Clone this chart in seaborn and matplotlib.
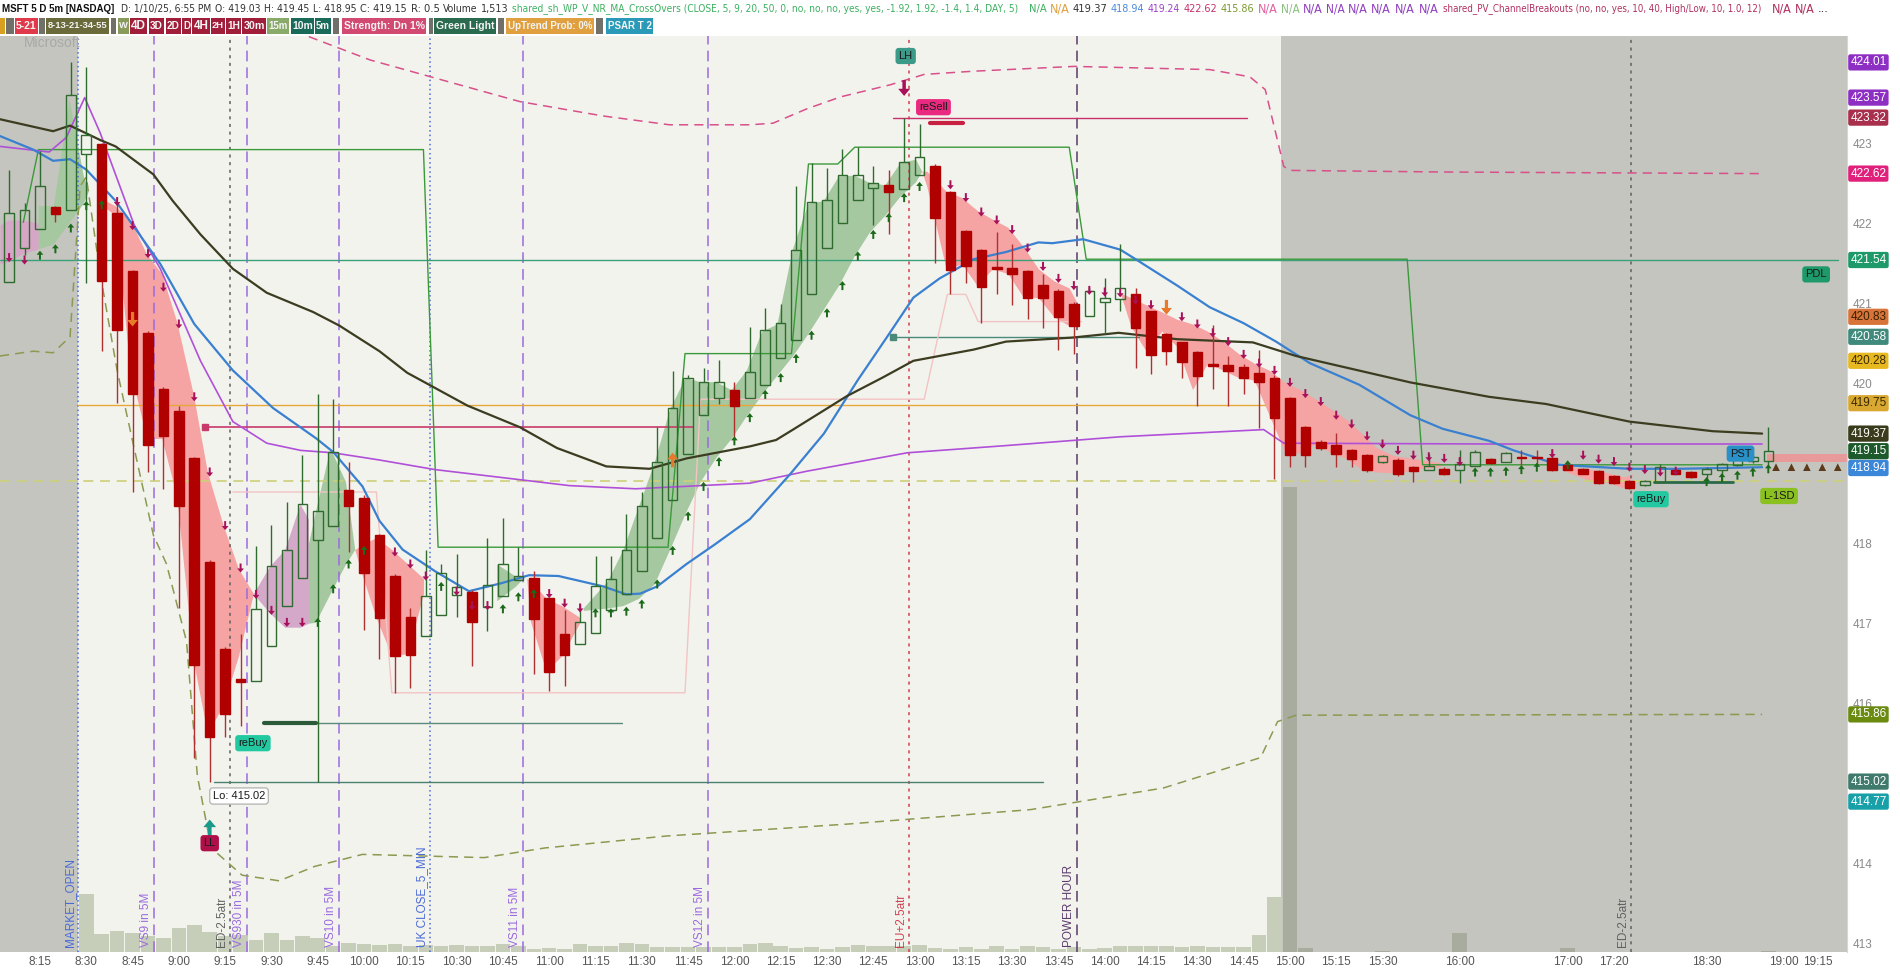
import matplotlib
matplotlib.use('Agg')
import numpy as np
import matplotlib.pyplot as plt
import matplotlib.transforms as mtransforms
from matplotlib import font_manager
from matplotlib.font_manager import FontProperties
from matplotlib.patches import Rectangle
import seaborn as sns

sns.set_style('white')
REGULAR = ['Liberation Sans', 'DejaVu Sans']
plt.rcParams['font.family'] = REGULAR

# pick a condensed sans face if the box has one, the header text is very tight
narrow_file = None
for f in font_manager.fontManager.ttflist:
    nm = f.name.lower()
    if 'mono' in nm or 'serif' in nm or 'cjk' in nm:
        continue
    if ('narrow' in nm or 'condensed' in nm or f.stretch in ('condensed', 'semi-condensed')) \
            and f.style == 'normal' and f.weight in (400, 'normal', 'regular', 'book'):
        narrow_file = f.fname
        break


def hfont(size, bold=False):
    if narrow_file and not bold:
        return FontProperties(fname=narrow_file, size=size)
    return FontProperties(family=REGULAR, size=size, weight='bold' if bold else 'normal')


W, H = 1900, 972

# ---- candles: bar index (8:15 = 0), 5 minute bars, MSFT 1/10/25 ----
bar_idx = list(range(-2, 113))
opens = [421.26, 421.69, 421.93, 422.20, 422.16,
         422.87, 422.99, 422.13, 421.40, 420.63, 419.93, 419.65, 419.06, 417.77, 416.68,
         416.30, 416.28, 416.72, 417.22, 417.57, 418.04, 418.22, 418.67, 418.57, 418.10,
         417.59, 417.08, 416.84, 417.10, 417.35, 417.39, 417.20, 417.34, 417.54, 417.57,
         417.31, 416.86, 416.74, 416.88, 417.16, 417.36, 417.65, 418.07, 418.54, 419.12,
         419.60, 419.81, 419.91, 419.81, 419.98, 420.32, 420.54, 421.11, 421.69, 422.00,
         422.29, 422.44, 422.48, 422.43, 422.60, 422.72, 422.39, 421.90, 421.67, 421.45,
         421.44, 421.40, 421.23, 421.15, 420.99, 420.84, 421.01, 421.05, 421.11, 420.90,
         420.61, 420.51, 420.39, 420.24, 420.23, 420.20, 420.13, 420.07, 419.81, 419.45,
         419.27, 419.23, 419.16, 419.10, 419.01, 419.04, 418.95, 418.92, 418.93, 418.91,
         418.96, 419.05, 419.02, 419.08, 419.08, 419.07, 418.98, 418.93, 418.90, 418.84,
         418.78, 418.73, 418.77, 418.92, 418.89, 418.87, 418.91, 418.98, 419.03, 419.03]
closes = [422.13, 422.17, 422.46, 422.11, 423.60,
          423.10, 421.28, 420.66, 419.87, 419.23, 419.34, 418.46, 416.48, 415.58, 415.87,
          416.26, 417.18, 417.71, 417.91, 418.49, 418.40, 419.14, 418.46, 417.63, 417.06,
          416.59, 416.60, 417.34, 417.63, 417.45, 417.01, 417.48, 417.74, 417.59, 417.05,
          416.39, 416.60, 417.02, 417.46, 417.55, 417.92, 418.47, 419.01, 419.69, 420.07,
          420.02, 420.02, 419.72, 420.14, 420.66, 420.75, 421.67, 422.27, 422.29, 422.60,
          422.60, 422.50, 422.39, 422.77, 422.83, 422.06, 421.42, 421.46, 421.20, 421.43,
          421.36, 421.07, 421.07, 420.83, 420.71, 421.15, 421.07, 421.19, 420.69, 420.35,
          420.40, 420.27, 420.09, 420.22, 420.15, 420.07, 420.02, 419.57, 419.10, 419.10,
          419.19, 419.12, 419.05, 418.91, 419.09, 418.86, 418.90, 418.96, 418.87, 418.99,
          419.14, 419.00, 419.13, 419.06, 419.06, 418.92, 418.92, 418.87, 418.75, 418.75,
          418.69, 418.78, 418.95, 418.87, 418.83, 418.93, 418.99, 419.08, 419.08, 419.15]
highs = [422.66, 422.25, 422.90, 422.22, 424.01,
         423.95, 423.00, 422.25, 421.42, 420.65, 419.95, 419.71, 419.08, 417.79, 416.70,
         416.87, 417.96, 418.23, 418.51, 419.10, 419.87, 419.80, 419.01, 418.60, 418.12,
         417.61, 417.19, 417.92, 417.74, 417.87, 417.41, 418.07, 418.31, 417.95, 417.65,
         417.33, 417.16, 417.24, 417.84, 417.84, 418.37, 418.64, 419.45, 420.15, 420.10,
         420.19, 420.29, 420.01, 420.70, 420.94, 420.99, 422.47, 422.75, 422.69, 422.93,
         422.95, 422.72, 422.67, 423.32, 423.24, 422.74, 422.40, 421.92, 421.68, 421.89,
         421.74, 421.42, 421.37, 421.18, 421.02, 421.20, 421.31, 421.74, 421.19, 420.90,
         420.63, 420.52, 420.40, 420.73, 420.34, 420.24, 420.41, 420.10, 419.83, 419.47,
         419.29, 419.38, 419.18, 419.12, 419.10, 419.06, 418.97, 419.12, 418.95, 419.16,
         419.16, 419.07, 419.14, 419.16, 419.16, 419.16, 419.00, 418.94, 418.91, 418.85,
         418.79, 418.79, 418.99, 418.93, 418.90, 418.95, 419.00, 419.09, 419.10, 419.45]
lows = [421.26, 421.60, 421.93, 422.01, 422.16,
        421.25, 420.40, 419.75, 418.64, 418.89, 418.68, 417.19, 415.31, 415.02, 415.58,
        415.72, 416.28, 416.72, 417.22, 417.57, 415.02, 418.22, 417.89, 416.92, 416.55,
        416.13, 416.19, 416.84, 417.10, 417.08, 416.47, 416.90, 417.34, 417.54, 416.37,
        416.15, 416.22, 416.74, 416.88, 417.16, 417.36, 417.65, 418.07, 418.54, 419.12,
        419.60, 419.74, 419.31, 419.81, 419.98, 420.32, 420.54, 421.11, 421.69, 422.00,
        422.29, 421.98, 421.87, 422.43, 422.60, 421.50, 421.11, 421.25, 420.75, 421.12,
        420.98, 420.80, 420.69, 420.41, 420.37, 420.84, 420.61, 420.90, 420.19, 420.11,
        420.23, 420.07, 419.72, 419.93, 419.72, 419.87, 419.44, 418.80, 418.95, 418.95,
        419.17, 418.95, 418.95, 418.89, 419.00, 418.84, 418.77, 418.92, 418.85, 418.75,
        418.96, 418.99, 419.02, 418.98, 418.98, 418.90, 418.91, 418.86, 418.74, 418.74,
        418.68, 418.72, 418.76, 418.86, 418.82, 418.75, 418.78, 418.97, 419.00, 418.95]
volume_k = [0, 0, 0, 0, 0,
            580, 180, 210, 190, 160, 140, 240, 270, 200, 160,
            170, 120, 190, 120, 160, 140, 60, 90, 80, 70,
            80, 60, 70, 60, 70, 60, 60, 80, 60, 30,
            40, 30, 80, 60, 60, 90, 80, 50, 50, 50,
            50, 50, 50, 80, 90, 60, 40, 50, 30, 50,
            70, 60, 60, 60, 70, 40, 30, 50, 30, 60,
            30, 60, 50, 30, 50, 30, 40, 60, 60, 60,
            60, 50, 60, 50, 50, 50, 170, 550, 4650, 40,
            5, 5, 5, 5, 10, 5, 5, 5, 5, 190,
            5, 5, 5, 5, 5, 5, 40, 5, 5, 5,
            5, 5, 5, 5, 5, 5, 5, 5, 5, 15]

# ---- time axis ----
tick_pos = [0, 3, 6, 9, 12, 15, 18, 21, 24, 27, 30, 33, 36, 39, 42, 45, 48, 51, 54, 57,
            60, 63, 66, 69, 72, 75, 78, 81, 84, 87, 92, 99, 102, 108, 113, 115.2]
tick_lab = ['8:15', '8:30', '8:45', '9:00', '9:15', '9:30', '9:45', '10:00', '10:15', '10:30',
            '10:45', '11:00', '11:15', '11:30', '11:45', '12:00', '12:15', '12:30', '12:45', '13:00',
            '13:15', '13:30', '13:45', '14:00', '14:15', '14:30', '14:45', '15:00', '15:15', '15:30',
            '16:00', '17:00', '17:20', '18:30', '19:00', '19:15']
# price grid labels; 415 and 419 sit under the level bubbles in the reference
price_ticks = [413, 414, 416, 417, 418, 420, 421, 422, 423]
session_open = 2.45
session_close = 80.45

# ---- studies ----
ma_x = [-2.6, 0.85, 1.95, 3.9, 4.9, 7.35, 8.6, 10.4, 12.5, 14.7, 17.7, 19.4, 22.0, 23.8, 27.7,
        31.1, 33.5, 36.7, 39.5, 41.9, 46.0, 47.7, 48.8, 52.3, 54.6, 56.6, 60.5, 62.6, 66.9,
        69.9, 73.7, 78.6, 81.4, 88.8, 93.9, 97.6, 103.0, 108.4, 111.6]
ma_y = [423.30, 423.15, 423.22, 423.04, 422.96, 422.61, 422.28, 421.86, 421.43, 421.13, 420.89,
        420.72, 420.40, 420.13, 419.72, 419.45, 419.19, 418.96, 418.93, 419.06, 419.21, 419.29,
        419.42, 419.84, 420.07, 420.28, 420.42, 420.52, 420.57, 420.63, 420.55, 420.51, 420.34,
        420.01, 419.83, 419.74, 419.52, 419.40, 419.37]
ema_x = [-2.6, -0.44, 0.85, 1.95, 3.0, 4.9, 7.8, 10.0, 12.5, 15.1, 17.9, 19.0, 20.9, 22.0, 23.5,
         25.6, 27.8, 29.9, 31.7, 33.6, 36.5, 38.0, 38.9, 40.0, 41.9, 43.7, 46.0, 48.6, 50.8,
         53.0, 54.9, 56.6, 58.3, 60.5, 62.6, 64.7, 65.6, 67.6, 70.0, 71.0, 73.7, 75.8, 78.0,
         80.1, 82.3, 85.5, 88.8, 90.9, 93.9, 95.5, 98.4, 103.0, 106.2, 111.6]
ema_y = [423.09, 422.92, 422.78, 422.80, 422.67, 422.28, 421.49, 420.74, 420.16, 419.69, 419.31,
         419.14, 418.71, 418.28, 417.92, 417.65, 417.40, 417.50, 417.60, 417.59, 417.46, 417.36,
         417.37, 417.46, 417.74, 417.98, 418.30, 418.86, 419.37, 420.04, 420.58, 421.07, 421.31,
         421.55, 421.64, 421.76, 421.75, 421.80, 421.67, 421.55, 421.22, 420.95, 420.75, 420.52,
         420.25, 419.98, 419.60, 419.43, 419.28, 419.16, 418.98, 418.93, 418.93, 418.95]
vwap_x = [-2.6, 0.6, 1.7, 2.9, 3.9, 6.1, 7.8, 10.4, 12.5, 14.7, 16.9, 19.0, 22.0, 25.6, 30.4,
          34.3, 38.6, 46.0, 49.7, 56.2, 62.6, 70.0, 79.3, 80.6, 94.0, 111.6]
vwap_y = [422.96, 422.89, 423.07, 423.57, 423.13, 421.98, 421.43, 420.28, 419.52, 419.25, 419.16,
          419.13, 419.04, 418.92, 418.81, 418.72, 418.68, 418.75, 418.90, 419.13, 419.22, 419.33,
          419.42, 419.25, 419.24, 419.24]
band_up_x = [16.5, 21.4, 31.1, 36.5, 40.8, 46.0, 47.5, 49.7, 51.9, 55.1, 57.3, 60.5, 67.0, 75.8,
             78.4, 79.4, 80.6, 81.0, 90.9, 111.6]
band_up_y = [424.40, 424.04, 423.52, 423.34, 423.23, 423.23, 423.25, 423.43, 423.58, 423.73,
             423.86, 423.90, 423.96, 423.92, 423.83, 423.67, 422.71, 422.66, 422.64, 422.62]
band_lo_x = [-2.59, -0.44, 0.85, 1.95, 2.6, 3.0, 3.9, 5.0, 6.1, 7.35, 8.2, 9.5, 10.2, 11.1, 13.1,
             15.5, 17.8, 20.9, 28.8, 32.7, 40.6, 52.4, 64.2, 72.8, 79.1, 80.2, 81.4, 111.6]
band_lo_y = [420.34, 420.40, 420.38, 420.58, 422.46, 422.58, 421.37, 420.16, 419.19, 418.10,
             417.74, 416.77, 415.09, 414.19, 413.85, 413.78, 413.96, 414.11, 414.07, 414.19,
             414.34, 414.49, 414.67, 414.94, 415.32, 415.77, 415.85, 415.86]
stop_x = [-1.08, -0.1, 24.85, 25.8, 40.7, 41.8, 48.7, 49.8, 51.7, 52.8, 66.7, 67.8, 88.6, 89.6, 111.6]
stop_y = [422.01, 422.92, 422.92, 417.95, 417.95, 420.37, 420.37, 422.74, 422.74, 422.95, 422.95,
          421.55, 421.55, 418.98, 418.98]
trail_x = [12.5, 21.8, 22.8, 41.8, 42.8, 57.3, 58.8, 60.0, 60.8, 67.5]
trail_y = [418.64, 418.64, 416.13, 416.13, 419.80, 419.80, 421.11, 421.11, 420.77, 420.77]

# ---- trend clouds ----
pre_x = [-2.59, -2.07, -1.12, -0.11]
pre_hi = [421.98, 422.04, 422.04, 422.00]
pre_lo = [421.49, 421.52, 421.62, 421.68]
g0_x = [-0.11, 0.87, 1.88, 2.81, 3.13]
g0_hi = [422.22, 422.22, 423.56, 422.59, 422.40]
g0_lo = [421.68, 421.74, 422.01, 422.25, 422.40]
r1_x = [3.67, 4.86, 5.84, 6.92, 7.89, 8.86, 9.94, 10.85, 11.88, 12.86, 13.83]
r1_hi = [422.34, 422.22, 422.04, 421.61, 421.37, 420.77, 419.86, 418.89, 418.22, 417.68, 417.37]
r1_lo = [422.28, 422.10, 420.16, 419.31, 419.31, 418.59, 416.53, 415.62, 415.98, 416.59, 417.37]
p1_x = [13.83, 14.87, 15.86, 16.85, 17.4]
p1_hi = [417.37, 417.71, 417.92, 418.49, 418.30]
p1_lo = [417.37, 417.13, 416.95, 416.95, 417.00]
g1_x = [17.4, 17.85, 18.8, 19.8, 20.4]
g1_hi = [418.00, 418.40, 419.19, 418.77, 417.92]
g1_lo = [417.00, 417.01, 417.37, 417.74, 417.92]
r2_x = [20.4, 20.85, 21.78, 22.8, 23.83, 24.85]
r2_hi = [417.92, 417.98, 418.07, 417.92, 417.74, 417.56]
r2_lo = [417.92, 417.62, 417.07, 416.59, 416.62, 417.37]
g2_x = [29.6, 30.8, 31.3]
g2_hi = [417.74, 417.59, 417.56]
g2_lo = [417.28, 417.46, 417.56]
r3_x = [31.54, 31.8, 32.8, 33.8, 35.0]
r3_hi = [417.56, 417.53, 417.31, 417.22, 417.07]
r3_lo = [417.56, 417.01, 416.40, 416.59, 417.01]
g3_x = [35.2, 36.77, 37.77, 38.78, 39.8, 40.8, 41.8, 42.78, 43.79, 44.79, 45.76, 46.77, 47.75,
        48.76, 49.76, 50.75, 51.74, 52.76, 53.75, 54.75, 55.74, 56.75, 57.14]
g3_hi = [417.19, 417.53, 417.92, 418.46, 419.01, 419.68, 420.07, 420.02, 420.02, 419.92, 420.16,
         420.65, 420.74, 421.68, 422.25, 422.28, 422.59, 422.60, 422.51, 422.48, 422.76, 422.80, 422.65]
g3_lo = [417.16, 417.19, 417.22, 417.31, 417.49, 417.92, 418.37, 418.77, 419.07, 419.31, 419.59,
         419.86, 420.10, 420.34, 420.62, 420.92, 421.22, 421.59, 421.89, 422.10, 422.34, 422.52, 422.65]
r4_x = [57.14, 57.47, 58.72, 59.74, 60.73, 61.72, 62.72, 63.71, 64.7, 65.7, 66.69, 67.19]
r4_hi = [422.65, 422.65, 422.40, 422.32, 422.16, 422.05, 421.95, 421.71, 421.43, 421.28, 421.19, 421.01]
r4_lo = [422.65, 422.46, 421.43, 421.49, 421.22, 421.43, 421.37, 421.08, 421.07, 420.83, 420.72, 421.01]
r5_x = [70.0, 70.69, 71.68, 72.7, 73.67, 74.69, 75.66, 76.7, 77.67, 78.68, 79.68, 80.69, 81.66,
        82.68, 83.65, 84.64, 85.66, 86.63, 87.65, 88.62, 89.61, 90.63, 90.95]
r5_hi = [421.13, 421.07, 420.98, 420.89, 420.80, 420.74, 420.65, 420.52, 420.37, 420.25, 420.16,
         420.01, 419.92, 419.80, 419.68, 419.55, 419.37, 419.19, 419.10, 419.07, 419.04, 419.01, 418.98]
r5_lo = [421.13, 420.71, 420.40, 420.65, 420.46, 419.92, 420.25, 420.16, 420.07, 420.04, 419.59,
         419.13, 419.13, 419.25, 419.13, 419.06, 418.92, 418.89, 418.88, 418.90, 418.94, 418.95, 418.98]
r6_x = [98.4, 98.94, 100.62, 101.6, 102.61, 103.26]
r6_hi = [418.96, 418.96, 418.92, 418.88, 418.83, 418.86]
r6_lo = [418.96, 418.89, 418.77, 418.76, 418.69, 418.86]
proj_x = [111.9, 117.1]
proj_hi = [419.12, 419.12]
proj_lo = [419.02, 419.02]

# ---- signal arrows ----
dn_bar = [-2, -1, 5, 6, 7, 8, 9, 10, 11, 12, 13, 14, 15, 16, 17,
          23, 24, 25, 27, 28, 29, 33, 34, 35,
          59, 60, 61, 62, 63, 64, 65, 66, 67, 68, 69, 70,
          71, 72, 73, 74, 75, 76, 77, 78, 79, 80, 81, 82, 83, 84, 85, 86, 87, 88, 89, 90, 91, 92,
          98, 100, 101, 102, 103, 104, 105, 106]
dn_y = [421.57, 421.54, 422.27, 421.97, 421.62, 421.20, 420.74, 419.83, 418.89, 418.22, 417.69,
        417.36, 417.16, 417.01, 417.01,
        417.89, 417.74, 417.59, 417.40, 417.22, 417.22, 417.37, 417.25, 417.19,
        422.48, 422.32, 422.14, 422.04, 421.92, 421.69, 421.46, 421.31, 421.22, 421.16, 421.14, 421.13,
        421.04, 420.98, 420.92, 420.83, 420.74, 420.63, 420.52, 420.36, 420.25, 420.16, 420.01,
        419.87, 419.77, 419.60, 419.49, 419.34, 419.24, 419.16, 419.10, 419.08, 419.06, 419.02,
        419.12, 419.10, 419.05, 419.02, 418.95, 418.92, 418.89, 418.90]
up_bar = [0, 1, 2, 3, 4, 18, 19, 20, 21, 26, 30, 31, 32,
          36, 37, 38, 39, 40, 41, 42, 43, 44, 45, 46, 47, 48, 49, 50, 51, 52, 53, 54, 55, 56, 57,
          93, 94, 95, 96, 97, 99, 108, 109, 110, 111, 112]
up_y = [421.60, 421.68, 421.94, 422.22, 422.23, 417.01, 417.43, 417.74, 417.91, 417.46, 417.18,
        417.33, 417.37,
        417.13, 417.13, 417.15, 417.24, 417.49, 417.91, 418.34, 418.71, 419.02, 419.28, 419.57,
        419.86, 420.07, 420.31, 420.60, 420.88, 421.22, 421.59, 421.86, 422.07, 422.32, 422.46,
        418.89, 418.89, 418.90, 418.92, 418.95, 418.98, 418.77, 418.82, 418.85, 418.89, 418.93]
alert_dn_bar = [6, 73]
alert_dn_y = [420.80, 420.95]
alert_up_bar = [41]
alert_up_y = [419.04]
proj_tri_x = [112.5, 113.5, 114.5, 115.5, 116.5]
proj_tri_y = [418.95, 418.95, 418.95, 418.95, 418.95]

# ---- events ----
ev_pos = [2.45, 7.4, 12.3, 13.4, 19.4, 25.3, 31.3, 43.3, 56.3, 67.2, 103.1]
ev_text = ['MARKET_OPEN', 'VS9 in 5M', 'ED-2.5atr', 'VS930 in 5M', 'VS10 in 5M', 'UK CLOSE_5_MIN',
           'VS11 in 5M', 'VS12 in 5M', 'EU+2.5atr', 'POWER HOUR', 'ED-2.5atr']
ev_color = ['#4a6ad8', '#9a6ae0', '#606060', '#9a6ae0', '#9a6ae0', '#4a6ad8', '#9a6ae0', '#9a6ae0',
            '#d04050', '#5a3a6a', '#606060']
ev_dash = [(1, 2), (7, 4), (2, 3), (7, 4), (7, 4), (1, 2), (7, 4), (7, 4), (2, 3), (7, 4), (2, 3)]

# ---- bubbles ----
bub_text = ['LH', 'reSell', 'reBuy', 'Lo: 415.02', 'LL', 'PDL', 'PST', 'reBuy', 'L-1SD']
bub_x = [56.1, 57.9, 13.8, 12.9, 11.0, 115.1, 110.2, 104.4, 112.7]
bub_y = [424.09, 423.45, 415.50, 414.84, 414.25, 421.36, 419.12, 418.55, 418.59]
bub_bg = ['#3c9a88', '#ea2a80', '#22c8a0', '#ffffff', '#b0104a', '#1e9a6a', '#2a90c8', '#22c8a0', '#8ac020']

# ---- price axis bubbles ----
lvl_price = [424.01, 423.57, 423.32, 422.62, 421.54, 420.83, 420.58, 420.28, 419.75, 419.37,
             419.15, 418.94, 415.86, 415.02, 414.77]
lvl_bg = ['#8e2fc4', '#8e2fc4', '#a8304c', '#e0207a', '#1e9a6a', '#d8743a', '#3f8a7c', '#e8b820',
          '#d8a830', '#3a3a1c', '#1c5a2c', '#3a86d8', '#6a8a10', '#3f7a6c', '#18a0a8']
lvl_fg = ['white', 'white', 'white', 'white', 'white', '#3a2000', 'white', '#3a2a00', '#3a2a00',
          'white', 'white', 'white', 'white', 'white', 'white']

fig = plt.figure(figsize=(19, 9.72), dpi=100, facecolor='white')
axv = fig.add_axes([0, 20 / H, 1847 / W, 916 / H])
axv.set_facecolor('#f3f3ee')
x0, x1 = -2.59, 117.1
axv.set_xlim(x0, x1)
axv.axvspan(x0, session_open, color='#c4c5be', lw=0, zorder=0)
axv.axvspan(session_close, x1, color='#c4c5be', lw=0, zorder=0)
vol_col = ['#a7ac9f' if b > session_close else '#c6cdb8' for b in bar_idx]
axv.bar(bar_idx, volume_k, width=0.94, color=vol_col, lw=0, zorder=1)
axv.set_ylim(0, 9160)
axv.set_yticks([])
axv.set_xticks(tick_pos)
axv.set_xticklabels(tick_lab)
axv.tick_params(axis='x', length=0, pad=3, labelsize=8.5, labelcolor='#555555')
for s in axv.spines.values():
    s.set_visible(False)

ax = axv.twinx()
ax.set_xlim(x0, x1)
ax.set_ylim(412.89, 424.34)
ax.set_yticks(price_ticks)
ax.tick_params(axis='y', length=0, pad=4, labelsize=8.5, labelcolor='#8a8a8a')
for s in ax.spines.values():
    s.set_visible(False)
ax.spines['right'].set_visible(True)
ax.spines['right'].set_color('#d6d6d6')

# clouds
clouds = [(pre_x, pre_hi, pre_lo, '#d6a6c6'), (g0_x, g0_hi, g0_lo, '#a6c8a0'),
          (r1_x, r1_hi, r1_lo, '#f5a3a3'), (p1_x, p1_hi, p1_lo, '#d4a8c8'),
          (g1_x, g1_hi, g1_lo, '#a6c8a0'), (r2_x, r2_hi, r2_lo, '#f5a3a3'),
          (g2_x, g2_hi, g2_lo, '#a6c8a0'), (r3_x, r3_hi, r3_lo, '#f5a3a3'),
          (g3_x, g3_hi, g3_lo, '#a6c8a0'), (r4_x, r4_hi, r4_lo, '#f5a3a3'),
          (r5_x, r5_hi, r5_lo, '#f5a3a3'), (r6_x, r6_hi, r6_lo, '#f5a3a3'),
          (proj_x, proj_hi, proj_lo, '#e89a9a')]
for cx, chi, clo, cc in clouds:
    ax.fill_between(cx, clo, chi, color=cc, lw=0, zorder=1)

# event lines + labels
for p, t, c, d in zip(ev_pos, ev_text, ev_color, ev_dash):
    ax.axvline(p, color=c, lw=1.1, dashes=d, zorder=1.5)
    ax.text(p - 0.12, 412.95, t, rotation=90, ha='right', va='bottom', fontsize=8.5,
            color=c, family=REGULAR, zorder=6)

# levels
ax.plot([x0, x1], [418.78, 418.78], color='#cdd07a', lw=1.2, dashes=(6, 4), zorder=2)
ax.plot([x0, 116.5], [421.54, 421.54], color='#3aa07a', lw=1, zorder=2)
ax.plot([session_open, 79.4], [419.73, 419.73], color='#e8a838', lw=1, zorder=2)
ax.plot([10.7, 42.3], [419.45, 419.45], color='#c83a6a', lw=1.2, zorder=2)
ax.plot([10.7], [419.45], marker='s', ms=4, color='#c83a6a', zorder=2)
ax.plot([11.3, 65.0], [415.02, 415.02], color='#4a8070', lw=1, zorder=2)
ax.plot([14.5, 37.7], [415.75, 415.75], color='#5a8a7a', lw=1, zorder=2)
ax.plot([14.5, 17.9], [415.75, 415.75], color='#2a5a3a', lw=3, zorder=2)
ax.plot([55.3, 78.2], [423.32, 423.32], color='#c8306a', lw=1, zorder=2)
ax.plot([57.7, 59.8], [423.25, 423.25], color='#c82040', lw=3, zorder=2)
ax.plot([55.3, 71.2], [420.58, 420.58], color='#4a8a7a', lw=1, zorder=2)
ax.plot([55.3], [420.58], marker='s', ms=4, color='#4a8a7a', zorder=2)
ax.plot([104.6, 109.7], [418.77, 418.77], color='#2a6a4a', lw=2, zorder=2)

# studies
ax.plot(trail_x, trail_y, color='#f2c4c4', lw=1, zorder=2)
ax.plot(band_up_x, band_up_y, color='#d8508a', lw=1.1, dashes=(6, 4), zorder=2.5)
ax.plot(band_lo_x, band_lo_y, color='#8a9a50', lw=1.1, dashes=(6, 4), zorder=2.5)
ax.plot(stop_x, stop_y, color='#3a9a3a', lw=1, zorder=2.5)
sns.lineplot(x=vwap_x, y=vwap_y, sort=False, estimator=None, color='#b050d8', lw=1.2, ax=ax, zorder=3)
sns.lineplot(x=ema_x, y=ema_y, sort=False, estimator=None, color='#3a80d0', lw=1.6, ax=ax, zorder=3)
sns.lineplot(x=ma_x, y=ma_y, sort=False, estimator=None, color='#3c3c20', lw=1.6, ax=ax, zorder=3)

# candles
o = np.array(opens); c = np.array(closes); hi = np.array(highs); lo = np.array(lows)
xb = np.array(bar_idx)
up = c >= o
top = np.maximum(o, c); bot = np.minimum(o, c)
ax.vlines(xb[up], lo[up], bot[up], color='#2f6b2f', lw=1, zorder=4)
ax.vlines(xb[up], top[up], hi[up], color='#2f6b2f', lw=1, zorder=4)
ax.vlines(xb[~up], lo[~up], hi[~up], color='#b03030', lw=1, zorder=4)
ax.bar(xb[up], np.maximum(top[up] - bot[up], 0.012), bottom=bot[up], width=0.62,
       facecolor='none', edgecolor='#2f6b2f', lw=1, zorder=4.5)
ax.bar(xb[~up], np.maximum(top[~up] - bot[~up], 0.012), bottom=bot[~up], width=0.62,
       facecolor='#b00000', edgecolor='#b00000', lw=1, zorder=4.5)

# arrows
dn_arrow = [(0, -1), (-0.75, -0.1), (-0.22, -0.1), (-0.22, 1), (0.22, 1), (0.22, -0.1), (0.75, -0.1), (0, -1)]
up_arrow = [(px_, -py_) for px_, py_ in dn_arrow]
sns.scatterplot(x=dn_bar, y=dn_y, marker=dn_arrow, s=42, color='#a8105a', edgecolor='none', ax=ax, zorder=5)
sns.scatterplot(x=up_bar, y=up_y, marker=up_arrow, s=42, color='#1a6a1a', edgecolor='none', ax=ax, zorder=5)
sns.scatterplot(x=alert_dn_bar, y=alert_dn_y, marker=dn_arrow, s=110, color='#e8782a', edgecolor='none', ax=ax, zorder=5)
sns.scatterplot(x=alert_up_bar, y=alert_up_y, marker=up_arrow, s=110, color='#e8782a', edgecolor='none', ax=ax, zorder=5)
sns.scatterplot(x=[56], y=[423.69], marker=dn_arrow, s=130, color='#a8105a', edgecolor='none', ax=ax, zorder=5)
sns.scatterplot(x=[11], y=[414.44], marker=up_arrow, s=150, color='#1a9a8a', edgecolor='none', ax=ax, zorder=5)
sns.scatterplot(x=proj_tri_x, y=proj_tri_y, marker='^', s=30, color='#5a3a1a', edgecolor='none', ax=ax, zorder=5)

for t, bx, by, bg in zip(bub_text, bub_x, bub_y, bub_bg):
    ec = '#b8b8b8' if bg == '#ffffff' else 'none'
    ax.text(bx, by, t, ha='center', va='center', fontsize=8, color='#1a1a1a', family=REGULAR, zorder=7,
            bbox=dict(boxstyle='round,pad=0.28', fc=bg, ec=ec, lw=1))

# price labels on the right axis
tr = mtransforms.blended_transform_factory(ax.transAxes, ax.transData)
for p, bg, fg in zip(lvl_price, lvl_bg, lvl_fg):
    ax.text(1.0018, p, f'{p:.2f}', transform=tr, ha='left', va='center', fontsize=8.5, color=fg,
            zorder=8, clip_on=False, bbox=dict(boxstyle='round,pad=0.18', fc=bg, ec='none'))


# ---- header ----
def px(x, y):
    return x / W, 1 - y / H


fig.text(*px(24, 43), 'Microsoft', ha='left', va='center', fontsize=10, color='#a8a8a8')

hdr1 = [(2, 'MSFT 5 D 5m [NASDAQ]', '#111111'), (121, 'D: 1/10/25, 6:55 PM', '#333333'),
        (215, 'O: 419.03', '#333333'), (264, 'H: 419.45', '#333333'), (313, 'L: 418.95', '#333333'),
        (360, 'C: 419.15', '#333333'), (411, 'R: 0.5', '#333333'), (443, 'Volume', '#333333'),
        (481, '1,513', '#333333'),
        (512, 'shared_sh_WP_V_NR_MA_CrossOvers (CLOSE, 5, 9, 20, 50, 0, no, no, no, yes, yes, -1.92, 1.92, -1.4, 1.4, DAY, 5)', '#3cb060'),
        (1029, 'N/A', '#3cb060'), (1050, 'N/A', '#e0a040'), (1073, '419.37', '#333333'),
        (1111, '418.94', '#4a8ad8'), (1148, '419.24', '#a040c8'), (1184, '422.62', '#c8306a'),
        (1221, '415.86', '#7a9a30'), (1258, 'N/A', '#e060a0'), (1281, 'N/A', '#8ac080'),
        (1303, 'N/A', '#9040c0'), (1326, 'N/A', '#9040c0'), (1348, 'N/A', '#9040c0'),
        (1371, 'N/A', '#9040c0'), (1395, 'N/A', '#9040c0'), (1419, 'N/A', '#9040c0'),
        (1443, 'shared_PV_ChannelBreakouts (no, no, yes, 10, 40, High/Low, 10, 1.0, 12)', '#b03060'),
        (1772, 'N/A', '#b03060'), (1795, 'N/A', '#b03060'), (1818, '...', '#333333')]

hdr2 = [(0, 5, '#d8a020', ''), (6, 14, '#707068', ''), (15, 38, '#e03a4a', '5-21'),
        (39, 45, '#707068', ''), (46, 109, '#6a6a3a', '8-13-21-34-55'), (111, 116, '#707068', ''),
        (118, 129, '#8a9a5a', 'W'), (130, 147, '#a01e3a', '4D'), (149, 164, '#a01e3a', '3D'),
        (166, 181, '#a01e3a', '2D'), (182, 191, '#a01e3a', 'D'), (192, 210, '#a01e3a', '4H'),
        (211, 225, '#a01e3a', '2H'), (226, 241, '#a01e3a', '1H'), (242, 266, '#a01e3a', '30m'),
        (267, 289, '#8aaa6a', '15m'), (291, 314, '#1a6a5a', '10m'), (315, 331, '#1a6a5a', '5m'),
        (333, 339, '#707068', ''), (342, 426, '#d24a72', 'Strength: Dn 1%'), (429, 433, '#707068', ''),
        (434, 496, '#2a6a4e', 'Green Light'), (498, 504, '#707068', ''),
        (506, 594, '#e0a040', 'UpTrend Prob: 0%'), (596, 603, '#707068', ''),
        (606, 653, '#2a9ab8', 'PSAR T 2')]

renderer = fig.canvas.get_renderer()


def fit(txt, max_w, bold=False, size=9.0, floor=5.0):
    # shrink a header text until it fits its slot
    while size > floor:
        txt.set_fontproperties(hfont(size, bold))
        if txt.get_window_extent(renderer).width <= max_w:
            break
        size -= 0.25


for i, (hx, ht, hc) in enumerate(hdr1):
    nxt = hdr1[i + 1][0] if i + 1 < len(hdr1) else 1845
    t = fig.text(*px(hx, 9), ht, ha='left', va='center', color=hc)
    fit(t, nxt - hx - 3, bold=(i == 0))

for bx0, bx1, bc, bt in hdr2:
    fig.add_artist(Rectangle(px(bx0, 34), (bx1 - bx0) / W, 16 / H, transform=fig.transFigure,
                             fc=bc, ec='none'))
    if bt:
        t = fig.text(*px((bx0 + bx1) / 2, 26), bt, ha='center', va='center', color='#f4f4f4')
        fit(t, bx1 - bx0 - 2, bold=True, size=8.5)

fig.savefig('out.png', dpi=100, facecolor='white')
